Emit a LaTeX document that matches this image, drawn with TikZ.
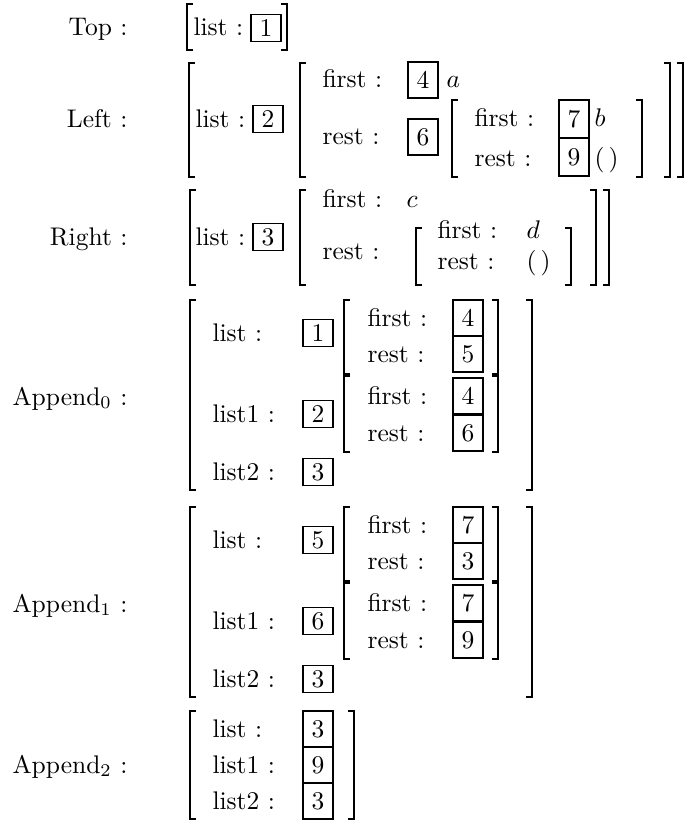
\documentclass[tikz,border=0pt]{standalone}
\newcommand\LBk[3]{\draw[brk] ({#1+6},#2) -- (#1,#2) -- (#1,#3) -- ({#1+6},#3);}
\newcommand\RBk[3]{\draw[brk] ({#1-6},#2) -- (#1,#2) -- (#1,#3) -- ({#1-6},#3);}
\begin{document}
\begin{tikzpicture}[x=1pt,y=-1pt,
  every node/.style={scale=2.55, transform shape, inner sep=0pt},
  lab/.style={anchor=base west},
  rlab/.style={anchor=base east},
  vbox/.style={draw, line width=1.2pt, minimum width=11.8pt, minimum height=10.6pt},
  tall/.style={vbox, minimum height=14.1pt},
  taller/.style={vbox, minimum height=14.9pt},
  brk/.style={line width=1.9pt}]
\fill[white] (0,0) rectangle (689,824);
\useasboundingbox (0,0) rectangle (689,824);
% Top
\node[rlab] (top) at (128,36) {Top :};
\LBk{187}{4}{50}
\node[lab] (tl) at (193,36) {list :};
\node[vbox] (t1) at (266,28) {1};
\RBk{287}{4}{50}
% Left
\node[rlab] (left) at (128,128) {Left :};
\LBk{189}{63}{177}
\node[lab] (ll) at (195,128) {list :};
\node[vbox] (l2) at (268,119) {2};
\LBk{300}{63}{177}
\node[lab] (lf) at (322,88) {first :};
\node[tall] (l4) at (423,80) {4};
\node[lab] (la) at (446,88) {$a$};
\node[lab] (lr) at (322,145) {rest :};
\node[tall] (l6) at (423,137) {6};
\LBk{452}{100}{177}
\node[lab] (lf2) at (474,127) {first :};
\node[taller] (l7) at (574,119) {7};
\node[lab] (lb) at (594,127) {$b$};
\node[lab] (lr2) at (474,166) {rest :};
\node[taller] (l9) at (574,157) {9};
\node[lab] (ln) at (594,166) {(\,)};
\RBk{642}{100}{177}
\RBk{670}{63}{177}
\RBk{683}{63}{177}
% Right
\node[rlab] (right) at (128,245) {Right :};
\LBk{190}{190}{285}
\node[lab] (rl) at (195,245) {list :};
\node[vbox] (r3) at (268,237) {3};
\LBk{300}{190}{285}
\node[lab] (rf) at (322,207) {first :};
\node[lab] (rc) at (406,207) {$c$};
\node[lab] (rr) at (322,259) {rest :};
\LBk{416}{228}{285}
\node[lab] (rf2) at (437,238) {first :};
\node[lab] (rd) at (526,238) {$d$};
\node[lab] (rr2) at (437,269) {rest :};
\node[lab] (rn) at (526,269) {(\,)};
\RBk{571}{228}{285}
\RBk{596}{190}{285}
\RBk{609}{190}{285}
% Append0
\node[rlab] (a0) at (128,405) {Append$_0$ :};
\LBk{190}{300}{490}
\node[lab] (a0l) at (212,341) {list :};
\node[vbox] (a0b1) at (318,333) {1};
\LBk{344}{300}{374}
\node[lab] (a0f) at (367,326) {first :};
\node[tall] (a0b4) at (468,318) {4};
\node[lab] (a0r) at (367,362) {rest :};
\node[tall] (a0b5) at (468,354) {5};
\RBk{498}{300}{374}
\LBk{344}{376}{452}
\node[lab] (a0f2) at (367,404) {first :};
\node[tall] (a0b4b) at (468,396) {4};
\node[lab] (a0r2) at (367,441) {rest :};
\node[tall] (a0b6) at (468,433) {6};
\RBk{498}{376}{452}
\node[lab] (a0l1) at (212,422) {list1 :};
\node[vbox] (a0b2) at (318,414) {2};
\node[lab] (a0l2) at (212,480) {list2 :};
\node[vbox] (a0b3) at (318,472) {3};
\RBk{532}{300}{490}
% Append1
\begin{scope}[shift={(0,207)}]
\node[rlab] (a1) at (128,405) {Append$_1$ :};
\LBk{190}{300}{490}
\node[lab] (a1l) at (212,341) {list :};
\node[vbox] (a1b5) at (318,333) {5};
\LBk{344}{300}{374}
\node[lab] (a1f) at (367,326) {first :};
\node[tall] (a1b7) at (468,318) {7};
\node[lab] (a1r) at (367,362) {rest :};
\node[tall] (a1b3) at (468,354) {3};
\RBk{498}{300}{374}
\LBk{344}{376}{452}
\node[lab] (a1f2) at (367,404) {first :};
\node[tall] (a1b7b) at (468,396) {7};
\node[lab] (a1r2) at (367,441) {rest :};
\node[tall] (a1b9) at (468,433) {9};
\RBk{498}{376}{452}
\node[lab] (a1l1) at (212,422) {list1 :};
\node[vbox] (a1b6) at (318,414) {6};
\node[lab] (a1l2) at (212,480) {list2 :};
\node[vbox] (a1b3b) at (318,472) {3};
\RBk{532}{300}{490}
\end{scope}
% Append2
\node[rlab] (a2) at (128,773) {Append$_2$ :};
\LBk{190}{711}{819}
\node[lab] (a2l) at (212,737) {list :};
\node[tall] (a2b3) at (318,729) {3};
\node[lab] (a2l1) at (212,773) {list1 :};
\node[tall] (a2b9) at (318,765) {9};
\node[lab] (a2l2) at (212,809) {list2 :};
\node[tall] (a2b3b) at (318,801) {3};
\RBk{354}{711}{819}
\end{tikzpicture}
\end{document}
